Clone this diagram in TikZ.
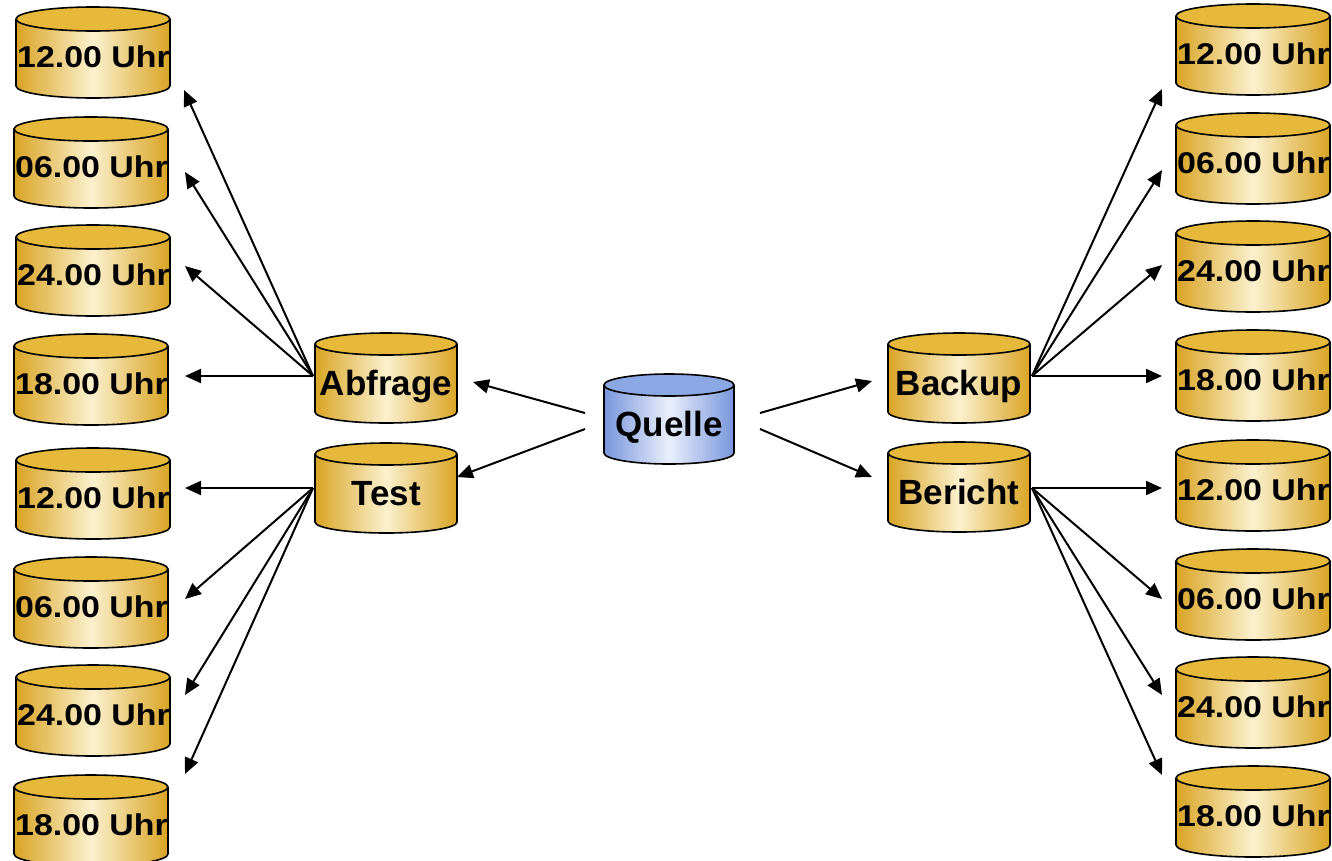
\documentclass[tikz,border=0pt]{standalone}
\usepackage{graphicx}
\usepackage{fontspec}
\setmainfont{Liberation Sans}
\usetikzlibrary{arrows.meta}

\definecolor{goldEdge}{RGB}{217,164,36}
\definecolor{goldTop}{RGB}{230,185,58}
\definecolor{goldMid}{RGB}{251,241,206}
\definecolor{blueEdge}{RGB}{120,150,220}
\definecolor{blueTop}{RGB}{140,168,228}
\definecolor{blueMid}{RGB}{234,239,251}

\tikzset{
  gold body/.style={left color=goldEdge,right color=goldEdge,middle color=goldMid},
  gold top/.style={fill=goldTop},
  blue body/.style={left color=blueEdge,right color=blueEdge,middle color=blueMid},
  blue top/.style={fill=blueTop},
  rim/.style={draw=black,line width=1.6pt},
  clock/.style={anchor=base west,inner sep=0pt,font=\bfseries\fontsize{30}{36}\selectfont},
  tag/.style={anchor=base,inner sep=0pt,font=\bfseries\fontsize{35}{42}\selectfont},
  anchorbox/.style={inner sep=0pt,outer sep=0pt},
  link/.style={line width=2pt,-{Triangle[length=16pt,width=14pt]}},
}

% #1 name, #2 left, #3 top, #4 width, #5 height, #6 end radius, #7 palette, #8 label
\newcommand\drum[8]{%
  \pgfmathsetmacro\drL{#2}%
  \pgfmathsetmacro\drR{#2+#4}%
  \pgfmathsetmacro\drT{-(#3)-(#6)}%
  \pgfmathsetmacro\drB{-(#3)-(#5)+(#6)}%
  \pgfmathsetmacro\drX{(#4)/2}%
  \pgfmathsetmacro\drCx{(#2)+(#4)/2}%
  \pgfmathsetmacro\drCy{-(#3)-(#5)/2}%
  \path[#7 body] (\drL,\drT) -- (\drL,\drB)
     arc[start angle=180,end angle=360,x radius=\drX pt,y radius=#6pt]
     -- (\drR,\drT) arc[start angle=0,end angle=180,x radius=\drX pt,y radius=#6pt] -- cycle;
  \begin{scope}
    \clip (\drL,\drT) -- (\drL,\drB)
       arc[start angle=180,end angle=360,x radius=\drX pt,y radius=#6pt] -- (\drR,\drT) -- cycle;
    #8
  \end{scope}
  \path[#7 top,rim] (\drCx,\drT) ellipse[x radius=\drX pt,y radius=#6pt];
  \draw[rim] (\drL,\drT) -- (\drL,\drB)
     arc[start angle=180,end angle=360,x radius=\drX pt,y radius=#6pt] -- (\drR,\drT);
  \node[anchorbox,minimum width=#4pt,minimum height=#5pt] (#1) at (\drCx,\drCy) {};
}
\newcommand\clockdrum[4]{\drum{#1}{#2}{#3}{154}{91}{12}{gold}%
  {\node[clock] at (\drL+1,\drCy-14.5) {\scalebox{1.13}[1]{#4}};}}
\newcommand\tankdrum[6]{\drum{#1}{#2}{#3}{#4}{90}{11}{#5}%
  {\node[tag] at (\drCx,\drCy-17) {#6};}}

\begin{document}
\begin{tikzpicture}[x=1pt,y=1pt]
\useasboundingbox (0,0) rectangle (1332,-860);

% left column
\clockdrum{L1}{16}{7}{12.00 Uhr}
\clockdrum{L2}{14}{117}{06.00 Uhr}
\clockdrum{L3}{16}{225}{24.00 Uhr}
\clockdrum{L4}{14}{334}{18.00 Uhr}
\clockdrum{L5}{16}{448}{12.00 Uhr}
\clockdrum{L6}{14}{557}{06.00 Uhr}
\clockdrum{L7}{16}{665}{24.00 Uhr}
\clockdrum{L8}{14}{775}{18.00 Uhr}

% right column
\clockdrum{R1}{1176}{4}{12.00 Uhr}
\clockdrum{R2}{1176}{113}{06.00 Uhr}
\clockdrum{R3}{1176}{221}{24.00 Uhr}
\clockdrum{R4}{1176}{330}{18.00 Uhr}
\clockdrum{R5}{1176}{440}{12.00 Uhr}
\clockdrum{R6}{1176}{549}{06.00 Uhr}
\clockdrum{R7}{1176}{657}{24.00 Uhr}
\clockdrum{R8}{1176}{766}{18.00 Uhr}

% middle stores
\tankdrum{abfrage}{315}{333}{142}{gold}{Abfrage}
\tankdrum{test}{315}{443}{142}{gold}{Test}
\tankdrum{backup}{888}{333}{142}{gold}{Backup}
\tankdrum{bericht}{888}{442}{142}{gold}{Bericht}
\tankdrum{quelle}{604}{374}{130}{blue}{Quelle}

% source to the four stores
\draw[link] ([shift={(-19,6)}]quelle.west) -- ([shift={(16,-4)}]abfrage.east);
\draw[link] ([shift={(-19,-10)}]quelle.west) -- ([shift={(0,11)}]test.east);
\draw[link] ([shift={(26,6)}]quelle.east) -- ([shift={(-16,-3)}]backup.west);
\draw[link] ([shift={(26,-10)}]quelle.east) -- ([shift={(-16,10)}]bericht.west);

% fans to the time slots
\foreach \t/\dx/\dy in {L1/14/-37.5, L2/17/-9.5, L3/15/4.5, L4/17/3.5}
  \draw[link] ([shift={(-2,2)}]abfrage.west) -- ([shift={(\dx,\dy)}]\t.east);
\foreach \t/\dx/\dy in {L5/15/5.5, L6/17/3.5, L7/15/15.5, L8/17/46.5}
  \draw[link] ([shift={(-2,0)}]test.west) -- ([shift={(\dx,\dy)}]\t.east);
\foreach \t/\dx/\dy in {R1/-14/-39.5, R2/-14/-11.5, R3/-14/1.5, R4/-14/-0.5}
  \draw[link] ([shift={(2,2)}]backup.east) -- ([shift={(\dx,\dy)}]\t.west);
\foreach \t/\dx/\dy in {R5/-14/-2.5, R6/-14/-4.5, R7/-14/7.5, R8/-14/36.5}
  \draw[link] ([shift={(2,-1)}]bericht.east) -- ([shift={(\dx,\dy)}]\t.west);
\end{tikzpicture}
\end{document}
